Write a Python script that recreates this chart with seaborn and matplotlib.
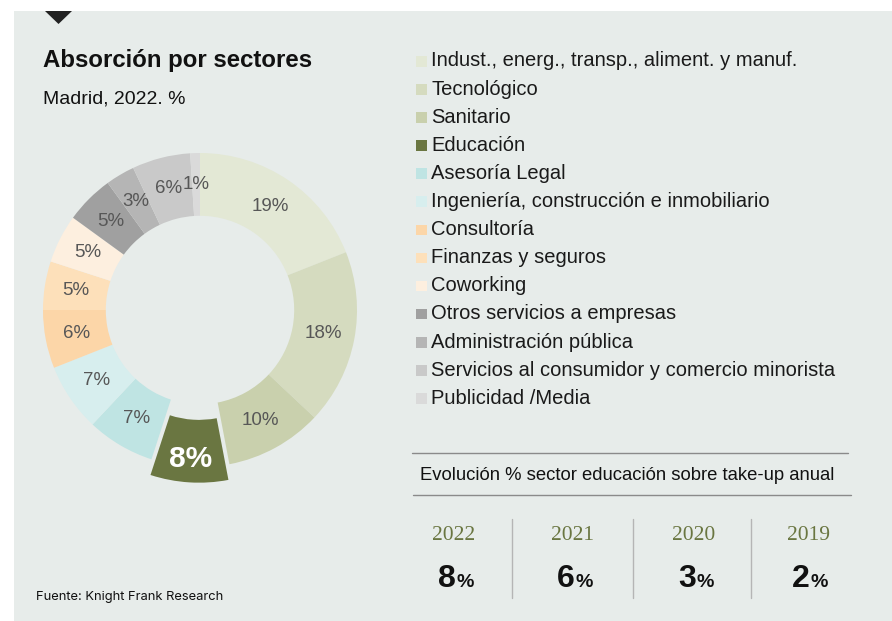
import matplotlib
matplotlib.use("Agg")
import matplotlib.pyplot as plt
from matplotlib.patches import Rectangle, Polygon
import seaborn as sns

sns.set_theme(style="white")
plt.rcParams["font.family"] = ["Liberation Sans", "DejaVu Sans"]

# Take-up share by sector, Madrid 2022 (%), clockwise from 12 o'clock
sectors = [
    "Indust., energ., transp., aliment. y manuf.",
    "Tecnológico",
    "Sanitario",
    "Educación",
    "Asesoría Legal",
    "Ingeniería, construcción e inmobiliario",
    "Consultoría",
    "Finanzas y seguros",
    "Coworking",
    "Otros servicios a empresas",
    "Administración pública",
    "Servicios al consumidor y comercio minorista",
    "Publicidad /Media",
]
shares = [19, 18, 10, 8, 7, 7, 6, 5, 5, 5, 3, 6, 1]
sector_colors = [
    "#e3e8d5", "#d5dbbf", "#c9d0ad", "#6a7641", "#bfe4e3", "#d7eeee",
    "#fcd6a8", "#fde0ba", "#fdefdf", "#a0a0a0", "#b5b5b5", "#c9c9c9", "#dadada",
]
highlight = "Educación"

# Education share of annual take-up
years = ["2022", "2021", "2020", "2019"]
edu_share = [8, 6, 3, 2]

W, H = 892, 621
BG = "#e7ecea"
fig = plt.figure(figsize=(W / 100, H / 100), dpi=100)
fig.patch.set_facecolor("white")


def fx(px):
    return px / W


def fy(py):
    return 1 - py / H


# panel background and marker triangle
fig.add_artist(Rectangle((fx(14), 0), 1 - fx(14), fy(11), transform=fig.transFigure,
                         facecolor=BG, edgecolor="none", zorder=0))
fig.add_artist(Polygon([(fx(45), fy(11)), (fx(72), fy(11)), (fx(58.5), fy(24))],
                       closed=True, transform=fig.transFigure,
                       facecolor="#222222", edgecolor="none", zorder=1))

fig.text(fx(43), fy(61), "Absorción por sectores", fontsize=17.3, fontweight="bold",
         color="#111111", va="center", ha="left")
fig.text(fx(43), fy(99), "Madrid, 2022. %", fontsize=14, color="#111111",
         va="center", ha="left")

# donut
cx, cy, R = 200, 310, 157
lim = 1.2
size = 2 * lim * R
ax = fig.add_axes([fx(cx - size / 2), fy(cy + size / 2), size / W, size / H])
ax.set_facecolor("none")
explode = [0.1 if s == highlight else 0 for s in sectors]
wedges, texts = ax.pie(shares, colors=sector_colors, startangle=90, counterclock=False,
                       explode=explode, radius=1,
                       wedgeprops=dict(width=0.4, edgecolor="none"),
                       labels=[f"{v}%" for v in shares], labeldistance=0.8)
for s, t in zip(sectors, texts):
    t.set_ha("center")
    t.set_va("center")
    if s == highlight:
        t.set_color("white")
        t.set_fontsize(21.5)
        t.set_fontweight("bold")
        x, y = t.get_position()
        t.set_position((x * 1.06, y * 1.06))
    else:
        t.set_color("#575757")
        t.set_fontsize(13.5)
ax.set_xlim(-lim, lim)
ax.set_ylim(-lim, lim)
ax.set_aspect("equal")
ax.axis("off")

# legend
y0, dy = 61, 28.1
for i, (s, c) in enumerate(zip(sectors, sector_colors)):
    yc = y0 + i * dy
    fig.add_artist(Rectangle((fx(416), fy(yc + 5.5)), 10.5 / W, 10.5 / H,
                             transform=fig.transFigure, facecolor=c, edgecolor="none"))
    fig.text(fx(431), fy(yc), s, fontsize=14.5, color="#1a1a1a", va="center", ha="left")

# education evolution table
line_kw = dict(transform=fig.transFigure, color="#8a8a8a", linewidth=1)
fig.add_artist(plt.Line2D([fx(412), fx(848)], [fy(452.5), fy(452.5)], **line_kw))
fig.add_artist(plt.Line2D([fx(413), fx(851)], [fy(494.5), fy(494.5)], **line_kw))
fig.text(fx(420), fy(475), "Evolución % sector educación sobre take-up anual",
         fontsize=13.3, color="#111111", va="center", ha="left")

col_x = [454, 573, 694, 808]
for xs in [512, 633, 751]:
    fig.add_artist(plt.Line2D([fx(xs), fx(xs)], [fy(519), fy(598)],
                              transform=fig.transFigure, color="#b5b5b5", linewidth=1))
for x, yr, v in zip(col_x, years, edu_share):
    fig.text(fx(x), fy(535), yr, fontsize=15.5, color="#6a7641",
             family="Liberation Serif", va="center", ha="center")
    fig.text(fx(x + 2), fy(587), f"{v}", fontsize=23, fontweight="bold", color="#111111",
             va="baseline", ha="right")
    fig.text(fx(x + 2.5), fy(587), "%", fontsize=14, fontweight="bold", color="#111111",
             va="baseline", ha="left")

fig.text(fx(36), fy(597), "Fuente: Knight Frank Research", fontsize=9.3,
         color="#111111", family=["Inter", "Liberation Sans"], va="center", ha="left")

fig.savefig("out.png", dpi=100, facecolor=fig.get_facecolor())
